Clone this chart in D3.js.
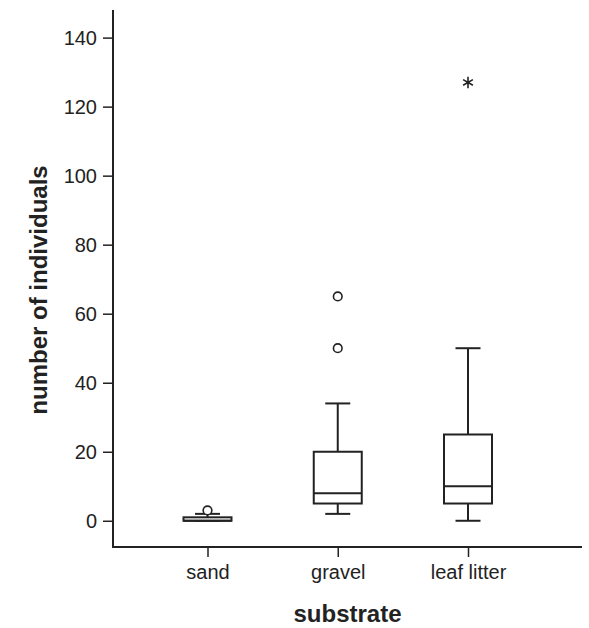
<!DOCTYPE html>
<html>
<head>
<meta charset="utf-8">
<script src="https://cdn.jsdelivr.net/npm/d3@7"></script>
<style>
  body { margin: 0; background: #fff; }
  text { font-family: "Liberation Sans", Arial, sans-serif; fill: #222; }
</style>
</head>
<body>
<div id="chart"></div>
<script>
// data
const categories = ["sand", "gravel", "leaf litter"];
const whiskerLow = [0, 2, 0];
const q1 = [0, 5, 5];
const median = [0, 8, 10];
const q3 = [1, 20, 25];
const whiskerHigh = [2, 34, 50];
// outliers: circle = mild, star = extreme
const outlierCat = ["sand", "gravel", "gravel", "leaf litter"];
const outlierVal = [3, 50, 65, 127];
const outlierKind = ["circle", "circle", "circle", "star"];
const yTicks = [0, 20, 40, 60, 80, 100, 120, 140];

const width = 589, height = 628;
const axisLeft = 113, axisRight = 582, axisTop = 10, axisBottom = 547;
const ink = "#222";

const svg = d3.select("#chart").append("svg")
  .attr("width", width)
  .attr("height", height);

// scales
const y = d3.scaleLinear()
  .domain([-7.6, 148])
  .range([axisBottom, axisTop]);

const x = d3.scalePoint()
  .domain(categories)
  .range([axisLeft + 94.5, axisRight - 114]);

const boxW = 48, capW = 25;

// y axis
const yAxis = svg.append("g")
  .attr("transform", `translate(${axisLeft},0)`)
  .call(d3.axisLeft(y).tickValues(yTicks).tickSize(10).tickPadding(6).tickSizeOuter(0));
yAxis.select(".domain").remove();
yAxis.selectAll(".tick line").attr("stroke", ink).attr("stroke-width", 1.5);
yAxis.selectAll(".tick text").attr("font-size", 20).style("font-family", "Liberation Sans, Arial, sans-serif").attr("fill", ink);

// x axis
const xAxis = svg.append("g")
  .attr("transform", `translate(0,${axisBottom})`)
  .call(d3.axisBottom(x).tickSize(10).tickPadding(8).tickSizeOuter(0));
xAxis.select(".domain").remove();
xAxis.selectAll(".tick line").attr("stroke", ink).attr("stroke-width", 1.5);
xAxis.selectAll(".tick text").attr("font-size", 20).style("font-family", "Liberation Sans, Arial, sans-serif").attr("fill", ink);

// axis lines (L shape)
svg.append("path")
  .attr("d", `M${axisLeft},${axisTop}V${axisBottom}H${axisRight}`)
  .attr("fill", "none")
  .attr("stroke", ink)
  .attr("stroke-width", 2);

// boxes
const boxes = svg.append("g")
  .selectAll("g.box")
  .data(categories)
  .enter().append("g")
  .attr("class", "box")
  .attr("stroke", ink)
  .attr("stroke-width", 2)
  .attr("fill", "none");

// whisker stems
boxes.append("line")
  .attr("x1", d => x(d)).attr("x2", d => x(d))
  .attr("y1", (d, i) => y(q3[i])).attr("y2", (d, i) => y(whiskerHigh[i]));
boxes.append("line")
  .attr("x1", d => x(d)).attr("x2", d => x(d))
  .attr("y1", (d, i) => y(q1[i])).attr("y2", (d, i) => y(whiskerLow[i]));

// caps
boxes.append("line")
  .attr("x1", d => x(d) - capW / 2).attr("x2", d => x(d) + capW / 2)
  .attr("y1", (d, i) => y(whiskerHigh[i])).attr("y2", (d, i) => y(whiskerHigh[i]));
boxes.append("line")
  .attr("x1", d => x(d) - capW / 2).attr("x2", d => x(d) + capW / 2)
  .attr("y1", (d, i) => y(whiskerLow[i])).attr("y2", (d, i) => y(whiskerLow[i]));

// box rect
boxes.append("rect")
  .attr("x", d => x(d) - boxW / 2)
  .attr("width", boxW)
  .attr("y", (d, i) => y(q3[i]))
  .attr("height", (d, i) => y(q1[i]) - y(q3[i]))
  .attr("fill", "#fff");

// median
boxes.append("line")
  .attr("x1", d => x(d) - boxW / 2).attr("x2", d => x(d) + boxW / 2)
  .attr("y1", (d, i) => y(median[i])).attr("y2", (d, i) => y(median[i]));

// outliers
const outliers = outlierVal.map((v, i) => ({ cat: outlierCat[i], value: v, kind: outlierKind[i] }));

svg.append("g")
  .selectAll("circle")
  .data(outliers.filter(d => d.kind === "circle"))
  .enter().append("circle")
  .attr("cx", d => x(d.cat))
  .attr("cy", d => y(d.value))
  .attr("r", 4.3)
  .attr("fill", "#fff")
  .attr("stroke", ink)
  .attr("stroke-width", 1.6);

svg.append("g")
  .selectAll("path")
  .data(outliers.filter(d => d.kind === "star"))
  .enter().append("path")
  .attr("transform", d => `translate(${x(d.cat)},${y(d.value)})`)
  .attr("d", d3.symbol().type(d3.symbolAsterisk).size(90))
  .attr("fill", "none")
  .attr("stroke", ink)
  .attr("stroke-width", 1.6);

// axis titles
svg.append("text")
  .attr("x", (axisLeft + axisRight) / 2)
  .attr("y", 622)
  .attr("text-anchor", "middle")
  .attr("font-size", 24)
  .attr("font-weight", "bold")
  .text("substrate");

svg.append("text")
  .attr("transform", `translate(47,290) rotate(-90)`)
  .attr("text-anchor", "middle")
  .attr("font-size", 24)
  .attr("font-weight", "bold")
  .text("number of individuals");
</script>
</body>
</html>
